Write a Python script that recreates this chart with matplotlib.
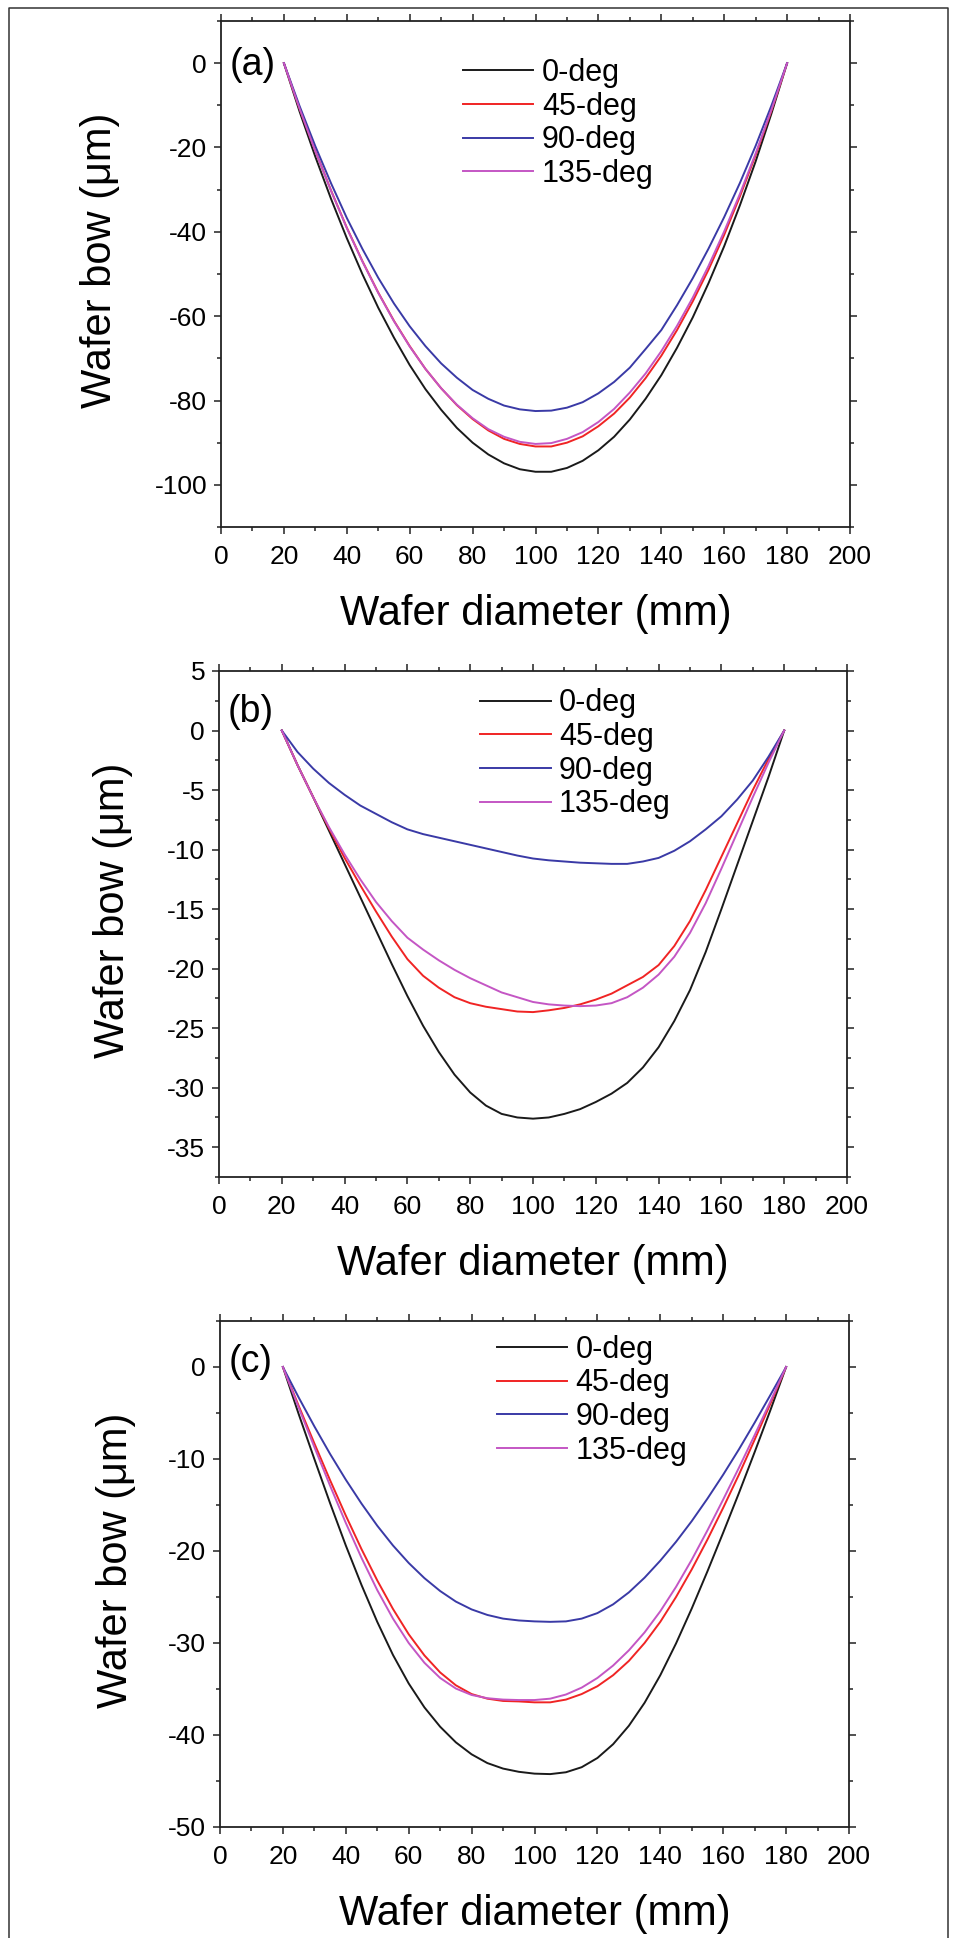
import matplotlib
matplotlib.use('Agg')
import matplotlib.pyplot as plt
from matplotlib.lines import Line2D
from matplotlib.ticker import MultipleLocator

plt.rcParams['font.family'] = ['Liberation Sans', 'DejaVu Sans']
plt.rcParams['axes.unicode_minus'] = False

# position along the wafer (mm)
diameter = [20, 25, 30, 35, 40, 45, 50, 55, 60, 65, 70, 75, 80, 85, 90, 95, 100,
            105, 110, 115, 120, 125, 130, 135, 140, 145, 150, 155, 160, 165, 170, 175, 180]
labels = ['0-deg', '45-deg', '90-deg', '135-deg']

# (a)
a_0 = [0, -11.5, -22.2, -32.2, -41.5, -50.1, -58.0, -65.1, -71.6, -77.3, -82.2, -86.5, -90.0, -92.8, -94.9, -96.3, -96.9,
       -96.9, -96.0, -94.3, -91.8, -88.6, -84.5, -79.6, -74.0, -67.5, -60.3, -52.2, -43.4, -33.7, -23.3, -12.0, 0]
a_45 = [0, -10.8, -20.8, -30.2, -39.0, -47.0, -54.4, -61.1, -67.1, -72.5, -77.1, -81.1, -84.4, -87.1, -89.1, -90.3, -90.9,
        -90.9, -90.0, -88.5, -86.1, -83.1, -79.3, -74.7, -69.4, -63.3, -56.5, -49.0, -40.7, -31.6, -21.8, -11.3, 0]
a_90 = [0, -10.2, -19.7, -28.5, -36.7, -44.1, -50.9, -57.0, -62.4, -67.1, -71.2, -74.6, -77.5, -79.6, -81.2, -82.1, -82.5,
        -82.4, -81.7, -80.4, -78.3, -75.6, -72.2, -67.8, -63.3, -57.4, -51.0, -44.0, -36.5, -28.4, -19.6, -10.1, 0]
a_135 = [0, -10.8, -20.9, -30.3, -39.1, -47.1, -54.5, -61.2, -67.2, -72.5, -77.1, -81.0, -84.2, -86.8, -88.6, -89.8, -90.3,
         -90.1, -89.1, -87.5, -85.1, -82.0, -78.1, -73.6, -68.3, -62.3, -55.6, -48.1, -39.9, -31.0, -21.4, -11.1, 0]

# (b)
b_0 = [0, -2.9, -5.6, -8.4, -11.2, -14.0, -16.8, -19.6, -22.3, -24.8, -27.0, -28.9, -30.4, -31.5, -32.2, -32.5, -32.6,
       -32.5, -32.2, -31.8, -31.2, -30.5, -29.6, -28.3, -26.6, -24.4, -21.8, -18.6, -15.0, -11.3, -7.6, -3.9, 0]
b_45 = [0, -2.9, -5.6, -8.2, -10.7, -13.0, -15.2, -17.3, -19.2, -20.6, -21.6, -22.4, -22.9, -23.2, -23.4, -23.6, -23.65,
        -23.5, -23.3, -23.0, -22.6, -22.1, -21.4, -20.7, -19.7, -18.1, -16.0, -13.4, -10.6, -7.8, -5.0, -2.4, 0]
b_90 = [0, -1.8, -3.2, -4.4, -5.4, -6.3, -7.0, -7.7, -8.3, -8.7, -9.0, -9.3, -9.6, -9.9, -10.2, -10.5, -10.75,
        -10.9, -11.0, -11.1, -11.15, -11.2, -11.2, -11.0, -10.7, -10.1, -9.3, -8.3, -7.2, -5.8, -4.2, -2.2, 0]
b_135 = [0, -2.9, -5.6, -8.1, -10.4, -12.5, -14.4, -16.0, -17.4, -18.4, -19.3, -20.1, -20.8, -21.4, -22.0, -22.4, -22.8,
         -23.0, -23.1, -23.15, -23.1, -22.9, -22.4, -21.6, -20.5, -19.0, -17.0, -14.5, -11.6, -8.6, -5.6, -2.7, 0]

# (c)
c_0 = [0, -5.1, -10.0, -14.8, -19.4, -23.7, -27.7, -31.3, -34.4, -37.0, -39.1, -40.8, -42.1, -43.05, -43.65, -44.0, -44.2,
       -44.25, -44.05, -43.5, -42.5, -41.0, -39.0, -36.5, -33.5, -30.05, -26.25, -22.2, -18.0, -13.7, -9.25, -4.7, 0]
c_45 = [0, -4.2, -8.3, -12.3, -16.15, -19.8, -23.2, -26.3, -29.05, -31.35, -33.2, -34.6, -35.55, -36.05, -36.3, -36.35, -36.45,
        -36.45, -36.15, -35.55, -34.7, -33.5, -31.95, -30.0, -27.7, -25.0, -22.0, -18.75, -15.3, -11.7, -7.9, -4.0, 0]
c_90 = [0, -3.3, -6.45, -9.45, -12.25, -14.85, -17.25, -19.4, -21.3, -22.95, -24.35, -25.5, -26.35, -26.95, -27.35, -27.55, -27.65,
        -27.7, -27.65, -27.35, -26.75, -25.8, -24.5, -22.9, -21.05, -19.0, -16.75, -14.3, -11.7, -8.95, -6.05, -3.05, 0]
c_135 = [0, -4.4, -8.7, -12.9, -16.95, -20.75, -24.25, -27.35, -30.0, -32.15, -33.8, -34.95, -35.65, -36.0, -36.15, -36.2, -36.2,
         -36.05, -35.6, -34.85, -33.8, -32.45, -30.8, -28.85, -26.55, -23.9, -20.95, -17.75, -14.4, -10.95, -7.4, -3.75, 0]

colors = ['#1a1a1a', '#f02424', '#3a3aa6', '#c456c4']

W, H = 957, 1938
fig = plt.figure(figsize=(W / 100, H / 100), dpi=100)

panels = [
    # series, axes box in px (left, top, right, bottom), ylim, major, minor, tag, tag y, legend anchor, ylabel x
    ([a_0, a_45, a_90, a_135], (221, 21, 850, 527), (-110, 10), 20, 10, '(a)', 0.914, (0.385, 0.927), -0.192),
    ([b_0, b_45, b_90, b_135], (219, 671, 847, 1177), (-37.5, 5), 5, 2.5, '(b)', 0.918, (0.416, 0.966), -0.169),
    ([c_0, c_45, c_90, c_135], (220, 1321, 849, 1827), (-50, 5), 10, 5, '(c)', 0.919, (0.440, 0.973), -0.165),
]

for series, (l, t, r, b), ylim, major, minor, tag, tag_y, anchor, ylx in panels:
    ax = fig.add_axes([l / W, 1 - b / H, (r - l) / W, (b - t) / H])
    for ys, c, lab in zip(series, colors, labels):
        ax.plot(diameter, ys, color=c, lw=1.4, label=lab)
    ax.set_xlim(0, 200)
    ax.set_ylim(*ylim)
    ax.xaxis.set_major_locator(MultipleLocator(20))
    ax.xaxis.set_minor_locator(MultipleLocator(10))
    ax.yaxis.set_major_locator(MultipleLocator(major))
    ax.yaxis.set_minor_locator(MultipleLocator(minor))
    ax.tick_params(which='both', direction='out', top=True, right=True, width=1.1, color='#222222')
    ax.tick_params(which='major', length=5, labelsize=19)
    ax.tick_params(axis='x', which='major', pad=8)
    ax.tick_params(axis='y', which='major', pad=5)
    ax.tick_params(which='minor', length=3)
    for sp in ax.spines.values():
        sp.set_linewidth(1.3)
        sp.set_color('#222222')

    ax.set_xlabel('Wafer diameter (mm)', fontsize=30)
    ax.xaxis.set_label_coords(0.5, -0.172)
    ax.xaxis.label.set_va('center')
    ax.set_ylabel('Wafer bow (μm)', fontsize=30)
    ax.yaxis.set_label_coords(ylx, 0.528)
    ax.yaxis.label.set_va('center')

    ax.text(0.013, tag_y, tag, transform=ax.transAxes, fontsize=27, ha='left', va='center')
    ax.legend(loc='upper left', bbox_to_anchor=anchor, frameon=False, fontsize=22,
              handlelength=2.3, handletextpad=0.28, labelspacing=0.12,
              borderpad=0, borderaxespad=0)

# thin frame around the figure (no bottom edge)
fx0, fx1, fy1 = 8.5 / W, 947.5 / W, 1 - 8 / H
fig.add_artist(Line2D([fx0, fx0, fx1, fx1], [0, fy1, fy1, 0], color='#333333', lw=1.1))

fig.savefig('out.png', dpi=100)
